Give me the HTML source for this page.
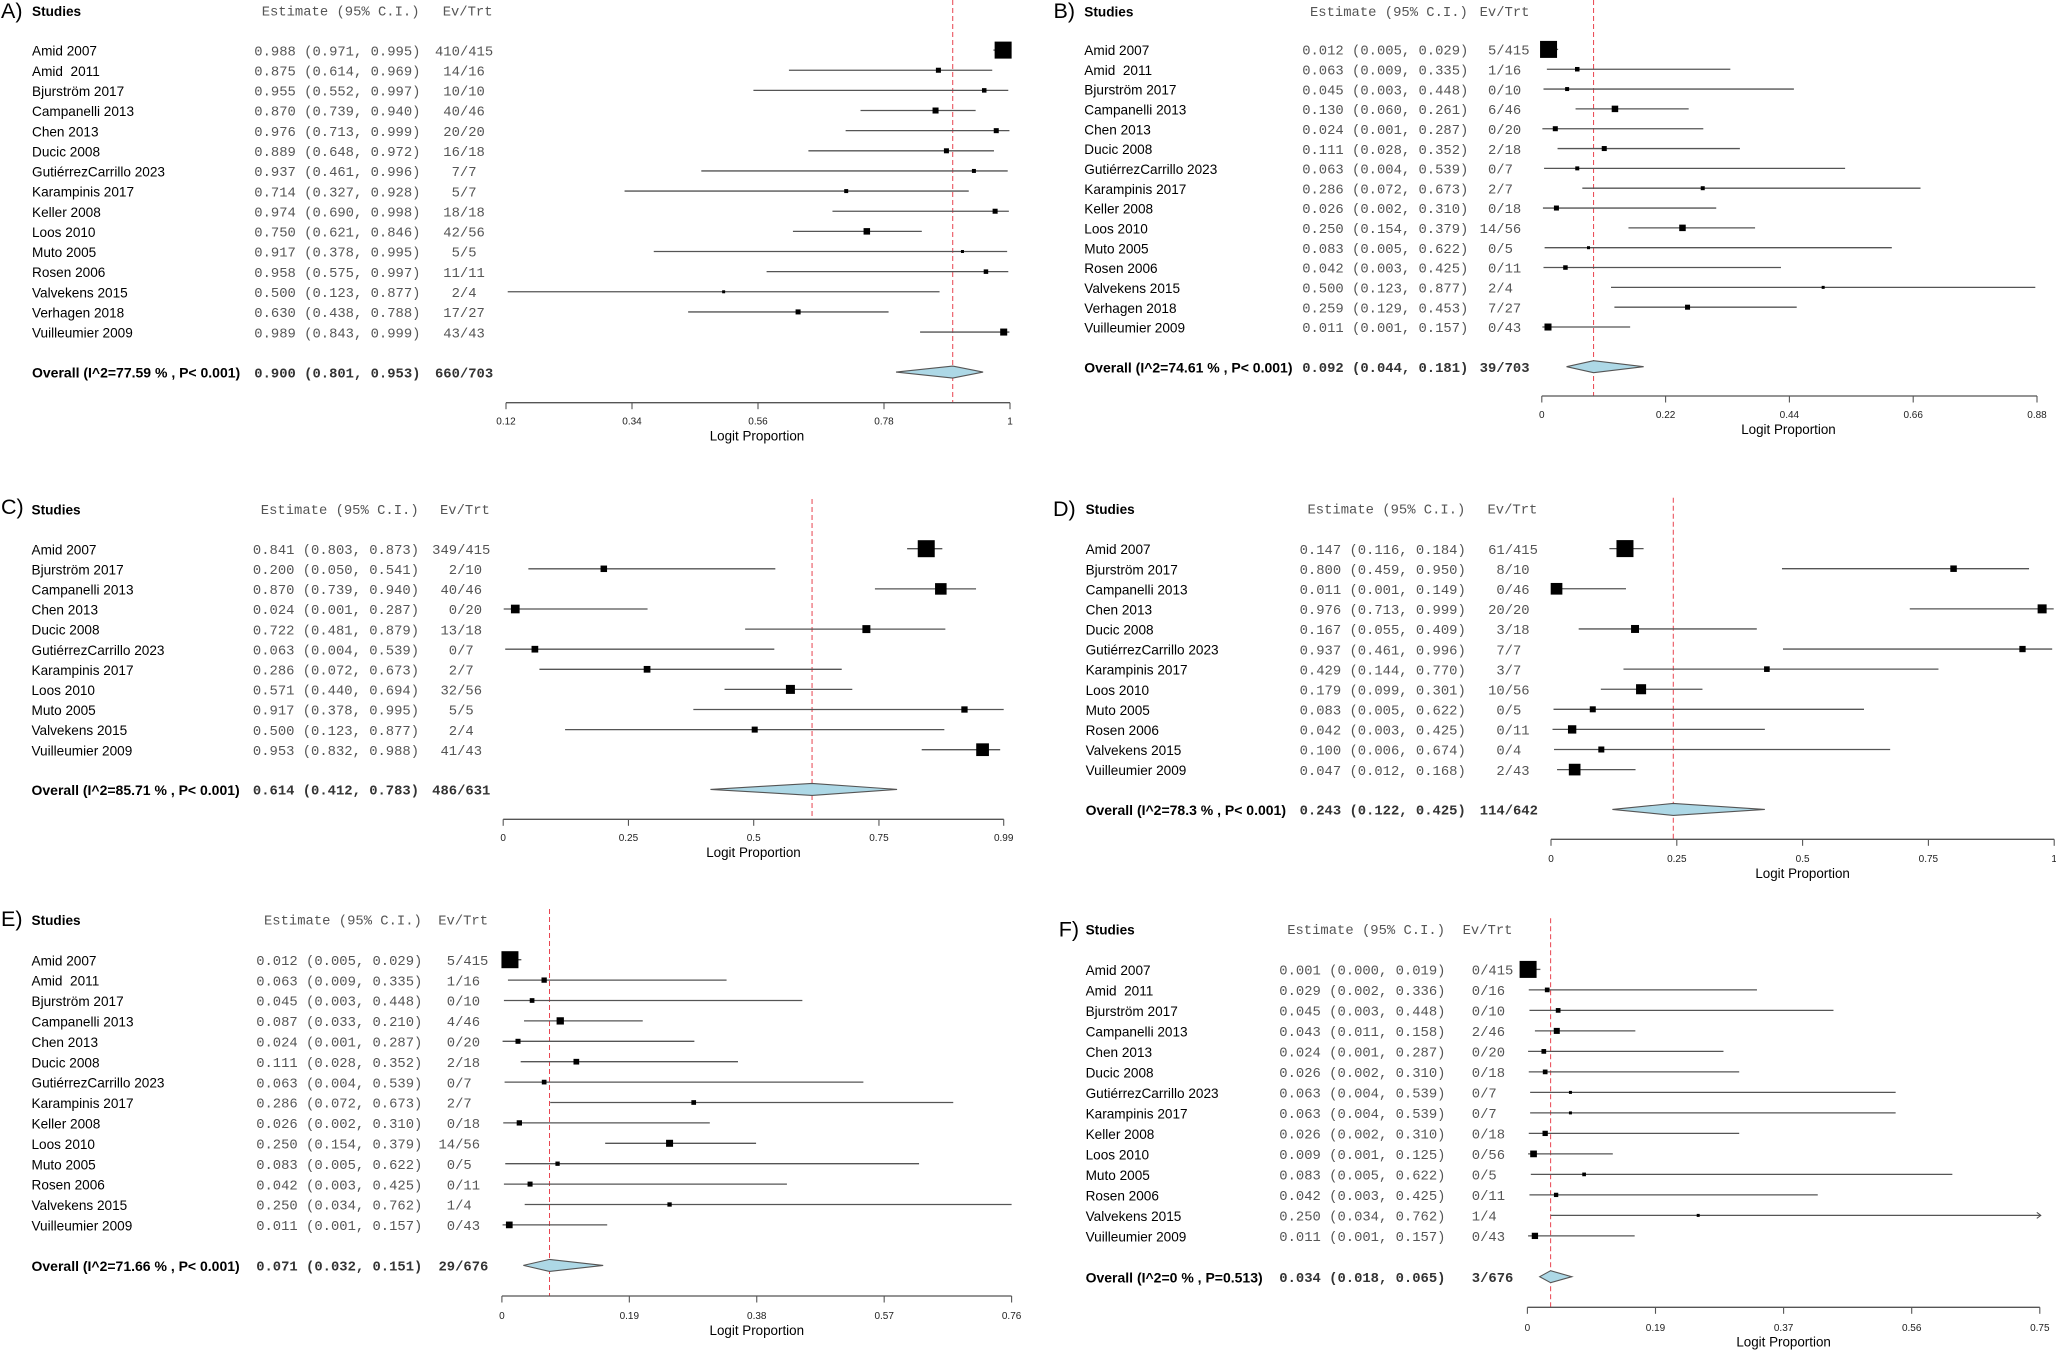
<!DOCTYPE html>
<html lang="en">
<head>
<meta charset="utf-8">
<title>Forest plots of logit proportions, panels A to F</title>
<style>
  html, body { margin: 0; padding: 0; background: #fff; }
  #figure { display: block; filter: blur(0.35px); }
  text { white-space: pre; font-family: "Liberation Sans", Arial, sans-serif; fill: #000; }
  .panel-letter { font-size: 21.5px; }
  .head-study { font-size: 13.6px; font-weight: bold; }
  .study { font-size: 13.6px; }
  .overall-label { font-size: 14px; font-weight: bold; }
  .mono { font-family: "Liberation Mono", monospace; font-size: 13.85px; fill: #555; }
  .mono-bold { font-family: "Liberation Mono", monospace; font-size: 13.85px; font-weight: bold; fill: #333; }
  .tick { font-size: 10px; text-anchor: middle; fill: #222; }
  .xlabel { font-size: 13.4px; text-anchor: middle; }
</style>
</head>
<body>
<svg id="figure" xmlns="http://www.w3.org/2000/svg" width="2056" height="1350" viewBox="0 0 2056 1350">
  <rect x="0" y="0" width="2056" height="1350" fill="#ffffff"/>

  <g id="panel-a">
    <text class="panel-letter" x="1" y="18">A)</text>
    <text class="head-study" x="32" y="16">Studies</text>
    <text class="mono" x="261.7" y="15.5">Estimate (95% C.I.)</text>
    <text class="mono" x="442.7" y="15.5">Ev/Trt</text>
    <text class="overall-label" x="32" y="377.7">Overall (I^2=77.59 % , P&lt; 0.001)</text>
    <text class="xlabel" x="757" y="440.5">Logit Proportion</text>
  </g>
  <g id="panel-b">
    <text class="panel-letter" x="1053.5" y="18">B)</text>
    <text class="head-study" x="1084.3" y="16.3">Studies</text>
    <text class="mono" x="1310" y="15.8">Estimate (95% C.I.)</text>
    <text class="mono" x="1479.6" y="15.8">Ev/Trt</text>
    <text class="overall-label" x="1084.3" y="372.3">Overall (I^2=74.61 % , P&lt; 0.001)</text>
    <text class="xlabel" x="1788.5" y="433.8">Logit Proportion</text>
  </g>
  <g id="panel-c">
    <text class="panel-letter" x="1" y="514">C)</text>
    <text class="head-study" x="31.5" y="514.3">Studies</text>
    <text class="mono" x="260.8" y="513.8">Estimate (95% C.I.)</text>
    <text class="mono" x="440" y="513.8">Ev/Trt</text>
    <text class="overall-label" x="31.5" y="795">Overall (I^2=85.71 % , P&lt; 0.001)</text>
    <text class="xlabel" x="753.5" y="856.8">Logit Proportion</text>
  </g>
  <g id="panel-d">
    <text class="panel-letter" x="1053" y="516">D)</text>
    <text class="head-study" x="1085.6" y="514">Studies</text>
    <text class="mono" x="1307.5" y="513.5">Estimate (95% C.I.)</text>
    <text class="mono" x="1487.5" y="513.5">Ev/Trt</text>
    <text class="overall-label" x="1085.6" y="815">Overall (I^2=78.3 % , P&lt; 0.001)</text>
    <text class="xlabel" x="1802.6" y="877.8">Logit Proportion</text>
  </g>
  <g id="panel-e">
    <text class="panel-letter" x="1" y="926">E)</text>
    <text class="head-study" x="31.5" y="925">Studies</text>
    <text class="mono" x="264" y="924.5">Estimate (95% C.I.)</text>
    <text class="mono" x="438.2" y="924.5">Ev/Trt</text>
    <text class="overall-label" x="31.5" y="1271">Overall (I^2=71.66 % , P&lt; 0.001)</text>
    <text class="xlabel" x="756.8" y="1334.8">Logit Proportion</text>
  </g>
  <g id="panel-f">
    <text class="panel-letter" x="1058.8" y="936.5">F)</text>
    <text class="head-study" x="1085.6" y="934.3">Studies</text>
    <text class="mono" x="1287.2" y="933.8">Estimate (95% C.I.)</text>
    <text class="mono" x="1462.6" y="933.8">Ev/Trt</text>
    <text class="overall-label" x="1085.6" y="1282.3">Overall (I^2=0 % , P=0.513)</text>
    <text class="xlabel" x="1783.6" y="1346.5">Logit Proportion</text>
  </g>
</svg>

<script>
/* ---------- Panel A data ---------- */
const aStudies = ["Amid 2007","Amid  2011","Bjurström 2017","Campanelli 2013","Chen 2013","Ducic 2008","GutiérrezCarrillo 2023","Karampinis 2017","Keller 2008","Loos 2010","Muto 2005","Rosen 2006","Valvekens 2015","Verhagen 2018","Vuilleumier 2009"];
const aEstimates = [0.988,0.875,0.955,0.870,0.976,0.889,0.937,0.714,0.974,0.750,0.917,0.958,0.500,0.630,0.989];
const aLower = [0.971,0.614,0.552,0.739,0.713,0.648,0.461,0.327,0.690,0.621,0.378,0.575,0.123,0.438,0.843];
const aUpper = [0.995,0.969,0.997,0.940,0.999,0.972,0.996,0.928,0.998,0.846,0.995,0.997,0.877,0.788,0.999];
const aEvents = [410,14,10,40,20,16,7,5,18,42,5,11,2,17,43];
const aTotals = [415,16,10,46,20,18,7,7,18,56,5,11,4,27,43];
const aWeights = [100,8.7,7,12.5,8.7,8.7,5.5,5.5,8.7,14.6,3.1,7,3.1,8.7,17];
const aOverall = [0.900,0.801,0.953];
const aOverallCounts = [660,703];
const aTicks = [0.12,0.34,0.56,0.78,1];
const aTickLabels = ["0.12","0.34","0.56","0.78","1"];

/* ---------- Panel B data ---------- */
const bStudies = ["Amid 2007","Amid  2011","Bjurström 2017","Campanelli 2013","Chen 2013","Ducic 2008","GutiérrezCarrillo 2023","Karampinis 2017","Keller 2008","Loos 2010","Muto 2005","Rosen 2006","Valvekens 2015","Verhagen 2018","Vuilleumier 2009"];
const bEstimates = [0.012,0.063,0.045,0.130,0.024,0.111,0.063,0.286,0.026,0.250,0.083,0.042,0.500,0.259,0.011];
const bLower = [0.005,0.009,0.003,0.060,0.001,0.028,0.004,0.072,0.002,0.154,0.005,0.003,0.123,0.129,0.001];
const bUpper = [0.029,0.335,0.448,0.261,0.287,0.352,0.539,0.673,0.310,0.379,0.622,0.425,0.877,0.453,0.157];
const bEvents = [5,1,0,6,0,2,0,2,0,14,0,0,2,7,0];
const bTotals = [415,16,10,46,20,18,7,7,18,56,5,11,4,27,43];
const bWeights = [100,7,5.5,14.6,8.7,8.7,5.5,5.5,8.7,14.6,3.1,7,3.1,8.7,17];
const bOverall = [0.092,0.044,0.181];
const bOverallCounts = [39,703];
const bTicks = [0,0.22,0.44,0.66,0.88];
const bTickLabels = ["0","0.22","0.44","0.66","0.88"];

/* ---------- Panel C data ---------- */
const cStudies = ["Amid 2007","Bjurström 2017","Campanelli 2013","Chen 2013","Ducic 2008","GutiérrezCarrillo 2023","Karampinis 2017","Loos 2010","Muto 2005","Valvekens 2015","Vuilleumier 2009"];
const cEstimates = [0.841,0.200,0.870,0.024,0.722,0.063,0.286,0.571,0.917,0.500,0.953];
const cLower = [0.803,0.050,0.739,0.001,0.481,0.004,0.072,0.440,0.378,0.123,0.832];
const cUpper = [0.873,0.541,0.940,0.287,0.879,0.539,0.673,0.694,0.995,0.877,0.988];
const cEvents = [349,2,40,0,13,0,2,32,5,2,41];
const cTotals = [415,10,46,20,18,7,7,56,5,4,43];
const cWeights = [100,14.6,46,26,22,15.5,15.5,28,13.7,12.5,56];
const cOverall = [0.614,0.412,0.783];
const cOverallCounts = [486,631];
const cTicks = [0,0.249,0.498,0.747,0.995];
const cTickLabels = ["0","0.25","0.5","0.75","0.99"];

/* ---------- Panel D data ---------- */
const dStudies = ["Amid 2007","Bjurström 2017","Campanelli 2013","Chen 2013","Ducic 2008","GutiérrezCarrillo 2023","Karampinis 2017","Loos 2010","Muto 2005","Rosen 2006","Valvekens 2015","Vuilleumier 2009"];
const dEstimates = [0.147,0.800,0.011,0.976,0.167,0.937,0.429,0.179,0.083,0.042,0.100,0.047];
const dLower = [0.116,0.459,0.001,0.713,0.055,0.461,0.144,0.099,0.005,0.003,0.006,0.012];
const dUpper = [0.184,0.950,0.149,0.999,0.409,0.996,0.770,0.301,0.622,0.425,0.674,0.168];
const dEvents = [61,8,0,20,3,7,3,10,0,0,0,2];
const dTotals = [415,10,46,20,18,7,7,56,5,11,4,43];
const dWeights = [100,14.6,47,28,22,13.7,11,35,12.5,24,12.5,47];
const dOverall = [0.243,0.122,0.425];
const dOverallCounts = [114,642];
const dTicks = [0,0.25,0.5,0.75,1];
const dTickLabels = ["0","0.25","0.5","0.75","1"];

/* ---------- Panel E data ---------- */
const eStudies = ["Amid 2007","Amid  2011","Bjurström 2017","Campanelli 2013","Chen 2013","Ducic 2008","GutiérrezCarrillo 2023","Karampinis 2017","Keller 2008","Loos 2010","Muto 2005","Rosen 2006","Valvekens 2015","Vuilleumier 2009"];
const eEstimates = [0.012,0.063,0.045,0.087,0.024,0.111,0.063,0.286,0.026,0.250,0.083,0.042,0.250,0.011];
const eLower = [0.005,0.009,0.003,0.033,0.001,0.028,0.004,0.072,0.002,0.154,0.005,0.003,0.034,0.001];
const eUpper = [0.029,0.335,0.448,0.210,0.287,0.352,0.539,0.673,0.310,0.379,0.622,0.425,0.762,0.157];
const eEvents = [5,1,0,4,0,2,0,2,0,14,0,0,1,0];
const eTotals = [415,16,10,46,20,18,7,7,18,56,5,11,4,43];
const eWeights = [100,9.7,7.6,18.4,8.7,11.2,7.6,7.6,9.7,17,6.4,8.7,6.4,15.5];
const eOverall = [0.071,0.032,0.151];
const eOverallCounts = [29,676];
const eTicks = [0,0.19,0.38,0.57,0.76];
const eTickLabels = ["0","0.19","0.38","0.57","0.76"];

/* ---------- Panel F data ---------- */
const fStudies = ["Amid 2007","Amid  2011","Bjurström 2017","Campanelli 2013","Chen 2013","Ducic 2008","GutiérrezCarrillo 2023","Karampinis 2017","Keller 2008","Loos 2010","Muto 2005","Rosen 2006","Valvekens 2015","Vuilleumier 2009"];
const fEstimates = [0.001,0.029,0.045,0.043,0.024,0.026,0.063,0.063,0.026,0.009,0.083,0.042,0.250,0.011];
const fLower = [0.000,0.002,0.003,0.011,0.001,0.002,0.004,0.004,0.002,0.001,0.005,0.003,0.034,0.001];
const fUpper = [0.019,0.336,0.448,0.158,0.287,0.310,0.539,0.539,0.310,0.125,0.622,0.425,0.762,0.157];
const fEvents = [0,0,0,2,0,0,0,0,0,0,0,0,1,0];
const fTotals = [415,16,10,46,20,18,7,7,18,56,5,11,4,43];
const fWeights = [100,7.6,7.6,12.5,7.6,7.6,3.1,3.1,9.7,15.5,4.7,6.4,3.1,13.7];
const fOverall = [0.034,0.018,0.065];
const fOverallCounts = [3,676];
const fTicks = [0,0.1875,0.375,0.5625,0.75];
const fTickLabels = ["0","0.19","0.37","0.56","0.75"];

/* ---------- Rendering ---------- */
const SVG_NS = "http://www.w3.org/2000/svg";
const CHAR_W = 8.31;
const MAX_BOX = 17;

function makeEl(tag, attrs, parent) {
  const node = document.createElementNS(SVG_NS, tag);
  for (const key in attrs) node.setAttribute(key, attrs[key]);
  parent.appendChild(node);
  return node;
}
function makeText(x, y, str, cls, parent) {
  const node = makeEl("text", { x: x, y: y, class: cls }, parent);
  node.textContent = str;
  return node;
}
function ciString(est, lo, hi) {
  return est.toFixed(3) + " (" + lo.toFixed(3) + ", " + hi.toFixed(3) + ")";
}

function drawPanel(p) {
  const root = document.getElementById(p.id);
  const dMin = p.ticks[0];
  const dMax = p.ticks[p.ticks.length - 1];
  const xScale = function (v) { return p.axisX0 + (v - dMin) / (dMax - dMin) * (p.axisX1 - p.axisX0); };
  const rowY = function (i) { return p.rowY0 + i * p.rowStep; };
  const boxSize = function (w) { return MAX_BOX * Math.sqrt(w / 100); };
  const clampX = function (v) { return xScale(Math.min(dMax, Math.max(dMin, v))); };

  /* reference line */
  const ref = makeEl("line", { x1: xScale(p.overall[0]), x2: xScale(p.overall[0]), y1: p.refTop, y2: p.axisY, stroke: "#e8434f", "stroke-width": 1, "stroke-dasharray": "5 3" }, root);
  
  

  /* study rows */
  p.studies.forEach(function (name, i) {
    const y = rowY(i);
    const lineY = y - 0.6;

    const label = makeText(p.studyX, y + 5, name, "study", root);
    
    

    const est = makeText(p.estX, y + 4.6, ciString(p.est[i], p.lo[i], p.hi[i]), "mono", root);
    
    

    const evStr = p.events[i] + "/" + p.totals[i];
    const ev = makeText(p.slashX - String(p.events[i]).length * CHAR_W, y + 4.6, evStr, "mono", root);
    
    

    const ci = makeEl("line", { x1: clampX(p.lo[i]), x2: clampX(p.hi[i]), y1: lineY, y2: lineY, stroke: "#555", "stroke-width": 1.3 }, root);
    
    

    if (p.hi[i] > dMax + 0.005) {
      const tip = xScale(dMax);
      const arrow = makeEl("polyline", { points: (tip - 3) + "," + (lineY - 3) + " " + (tip + 1) + "," + lineY + " " + (tip - 3) + "," + (lineY + 3), fill: "none", stroke: "#444", "stroke-width": 1 }, root);
      
      
    }

    const s = boxSize(p.weights[i]);
    const box = makeEl("rect", { x: xScale(p.est[i]) - s / 2, y: lineY - s / 2, width: s, height: s, fill: "#000" }, root);
    
    
  });

  /* overall row */
  const oy = p.overallY;
  const oEst = makeText(p.estX, oy + 4.6, ciString(p.overall[0], p.overall[1], p.overall[2]), "mono-bold", root);
  
  

  const oEv = makeText(p.slashX - String(p.overallCounts[0]).length * CHAR_W, oy + 4.6, p.overallCounts[0] + "/" + p.overallCounts[1], "mono-bold", root);
  
  

  const dy = oy - 0.6;
  const diamondPts = xScale(p.overall[1]) + "," + dy + " " + xScale(p.overall[0]) + "," + (dy - 6) + " " + xScale(p.overall[2]) + "," + dy + " " + xScale(p.overall[0]) + "," + (dy + 6);
  const diamond = makeEl("polygon", { points: diamondPts, fill: "#add8e6", stroke: "#555", "stroke-width": 1.1 }, root);
  
  

  /* axis */
  const axis = makeEl("line", { x1: xScale(dMin), x2: xScale(dMax), y1: p.axisY, y2: p.axisY, stroke: "#555", "stroke-width": 1.3 }, root);
  
  

  p.ticks.forEach(function (t, i) {
    const tx = xScale(t);
    const mark = makeEl("line", { x1: tx, x2: tx, y1: p.axisY, y2: p.axisY + 6.5, stroke: "#555", "stroke-width": 1.1 }, root);
    
    

    const tl = makeText(tx, p.tickLabelY, p.tickLabels[i], "tick", root);
    
    
  });
}

const panels = [
  { id: "panel-a", studies: aStudies, est: aEstimates, lo: aLower, hi: aUpper, events: aEvents, totals: aTotals, weights: aWeights, overall: aOverall, overallCounts: aOverallCounts, ticks: aTicks, tickLabels: aTickLabels,
    studyX: 32, estX: 254.3, slashX: 459.9, rowY0: 50.7, rowStep: 20.14, overallY: 372.7, axisX0: 506, axisX1: 1010, axisY: 402.7, tickLabelY: 424.5, refTop: 0 },
  { id: "panel-b", studies: bStudies, est: bEstimates, lo: bLower, hi: bUpper, events: bEvents, totals: bTotals, weights: bWeights, overall: bOverall, overallCounts: bOverallCounts, ticks: bTicks, tickLabels: bTickLabels,
    studyX: 1084.3, estX: 1302.2, slashX: 1496.3, rowY0: 50, rowStep: 19.83, overallY: 367.3, axisX0: 1541.8, axisX1: 2037, axisY: 396, tickLabelY: 417.8, refTop: 0 },
  { id: "panel-c", studies: cStudies, est: cEstimates, lo: cLower, hi: cUpper, events: cEvents, totals: cTotals, weights: cWeights, overall: cOverall, overallCounts: cOverallCounts, ticks: cTicks, tickLabels: cTickLabels,
    studyX: 31.5, estX: 252.9, slashX: 457.1, rowY0: 549.3, rowStep: 20.1, overallY: 790, axisX0: 503.2, axisX1: 1003.7, axisY: 819.3, tickLabelY: 841.2, refTop: 499 },
  { id: "panel-d", studies: dStudies, est: dEstimates, lo: dLower, hi: dUpper, events: dEvents, totals: dTotals, weights: dWeights, overall: dOverall, overallCounts: dOverallCounts, ticks: dTicks, tickLabels: dTickLabels,
    studyX: 1085.6, estX: 1299.6, slashX: 1504.7, rowY0: 549.2, rowStep: 20.09, overallY: 810, axisX0: 1551, axisX1: 2054.2, axisY: 839.3, tickLabelY: 861.8, refTop: 497.7 },
  { id: "panel-e", studies: eStudies, est: eEstimates, lo: eLower, hi: eUpper, events: eEvents, totals: eTotals, weights: eWeights, overall: eOverall, overallCounts: eOverallCounts, ticks: eTicks, tickLabels: eTickLabels,
    studyX: 31.5, estX: 256.2, slashX: 455.1, rowY0: 960.3, rowStep: 20.4, overallY: 1266, axisX0: 501.9, axisX1: 1011.6, axisY: 1296, tickLabelY: 1319.2, refTop: 909 },
  { id: "panel-f", studies: fStudies, est: fEstimates, lo: fLower, hi: fUpper, events: fEvents, totals: fTotals, weights: fWeights, overall: fOverall, overallCounts: fOverallCounts, ticks: fTicks, tickLabels: fTickLabels,
    studyX: 1085.6, estX: 1279.3, slashX: 1480.1, rowY0: 970, rowStep: 20.5, overallY: 1277.3, axisX0: 1527.4, axisX1: 2039.8, axisY: 1307.3, tickLabelY: 1330.8, refTop: 918.3 }
];
panels.forEach(drawPanel);
</script>
</body>
</html>
